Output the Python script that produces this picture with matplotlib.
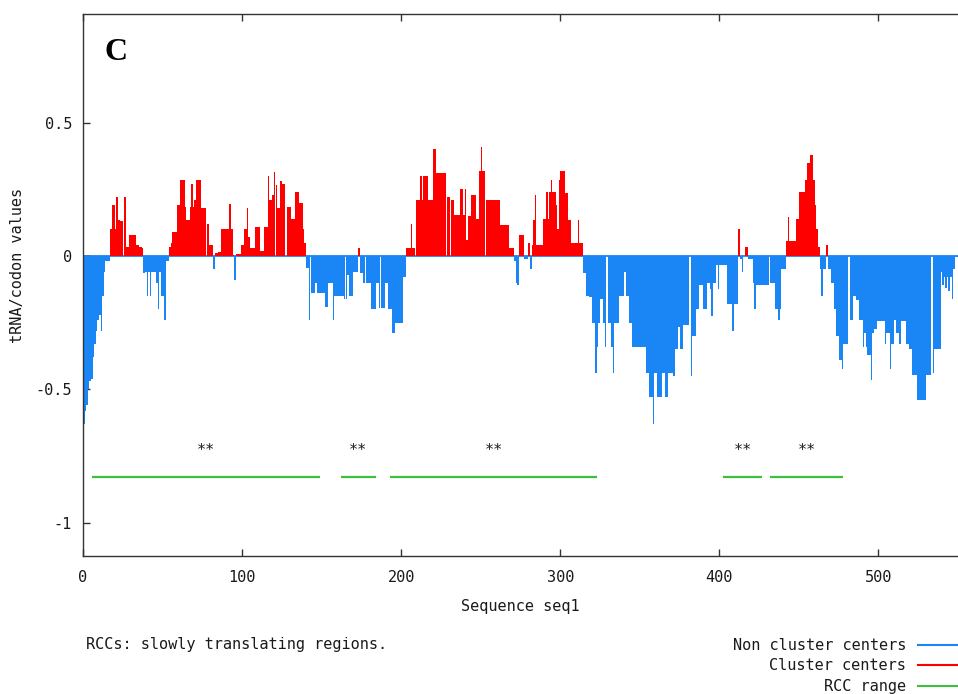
import numpy as np
import matplotlib
matplotlib.use("Agg")
import matplotlib.pyplot as plt
from matplotlib.lines import Line2D

# ---------------- data ----------------
values = [
    -0.63, -0.58, -0.56, -0.50, -0.47, -0.46, -0.38, -0.33, -0.28, -0.24,
    -0.22, -0.28, -0.15, -0.06, -0.02, -0.02, -0.02, 0.10, 0.19, 0.19,
    0.10, 0.22, 0.135, 0.13, 0.13, 0.0, 0.22, 0.035, 0.035, 0.08,
    0.08, 0.08, 0.08, 0.04, 0.04, 0.035, 0.035, 0.03, -0.065, -0.06,
    -0.15, -0.06, -0.15, -0.06, -0.06, -0.06, -0.10, -0.20, -0.06, -0.15,
    -0.15, -0.24, -0.02, -0.02, 0.035, 0.05, 0.09, 0.09, 0.09, 0.19,
    0.19, 0.285, 0.285, 0.285, 0.185, 0.135, 0.135, 0.185, 0.27, 0.185,
    0.21, 0.285, 0.285, 0.285, 0.18, 0.18, 0.18, 0.0, 0.12, 0.04,
    0.04, 0.04, -0.05, 0.01, 0.01, 0.015, 0.015, 0.10, 0.10, 0.10,
    0.10, 0.10, 0.195, 0.10, 0.005, -0.09, 0.008, 0.008, 0.008, 0.04,
    0.04, 0.10, 0.10, 0.18, 0.07, 0.03, 0.03, 0.03, 0.11, 0.11,
    0.11, 0.02, 0.02, 0.02, 0.11, 0.11, 0.30, 0.21, 0.21, 0.23,
    0.315, 0.265, 0.18, 0.18, 0.28, 0.27, 0.27, 0.0, 0.185, 0.185,
    0.185, 0.14, 0.14, 0.24, 0.24, 0.24, 0.20, 0.20, 0.10, 0.05,
    -0.045, -0.045, -0.24, -0.14, -0.14, -0.14, -0.10, -0.14, -0.14, -0.14,
    -0.14, -0.14, -0.19, -0.19, -0.10, -0.10, -0.10, -0.24, -0.15, -0.15,
    -0.15, -0.15, -0.15, -0.15, -0.16, -0.16, -0.07, -0.15, -0.15, -0.15,
    -0.06, -0.06, -0.06, 0.03, -0.065, -0.065, -0.10, 0.0, -0.10, -0.10,
    -0.10, -0.20, -0.20, -0.20, -0.10, -0.10, -0.195, -0.195, -0.195, -0.195,
    -0.10, -0.10, -0.20, -0.20, -0.29, -0.29, -0.25, -0.25, -0.25, -0.25,
    -0.25, -0.08, -0.08, 0.03, 0.03, 0.03, 0.12, 0.03, 0.03, 0.21,
    0.21, 0.21, 0.30, 0.21, 0.30, 0.30, 0.30, 0.21, 0.21, 0.21,
    0.40, 0.40, 0.31, 0.31, 0.31, 0.31, 0.31, 0.31, 0.0, 0.22,
    0.22, 0.21, 0.21, 0.155, 0.155, 0.155, 0.155, 0.25, 0.25, 0.155,
    0.25, 0.06, 0.15, 0.15, 0.23, 0.23, 0.23, 0.14, 0.14, 0.32,
    0.41, 0.32, 0.32, 0.21, 0.21, 0.21, 0.21, 0.21, 0.21, 0.21,
    0.21, 0.21, 0.115, 0.115, 0.115, 0.115, 0.115, 0.115, 0.03, 0.03,
    0.03, -0.02, -0.10, -0.11, 0.08, 0.08, 0.08, -0.01, -0.01, -0.01,
    0.05, -0.05, 0.04, 0.135, 0.23, 0.04, 0.04, 0.04, 0.04, 0.14,
    0.14, 0.24, 0.14, 0.24, 0.285, 0.24, 0.24, 0.19, 0.10, 0.285,
    0.32, 0.32, 0.32, 0.235, 0.235, 0.135, 0.135, 0.05, 0.05, 0.05,
    0.05, 0.135, 0.05, 0.05, -0.065, -0.065, -0.15, -0.15, -0.155, -0.155,
    -0.25, -0.25, -0.44, -0.34, -0.25, -0.16, -0.16, -0.25, -0.34, 0.0,
    -0.25, -0.25, -0.34, -0.44, -0.25, -0.25, -0.25, -0.15, -0.15, -0.15,
    -0.06, -0.15, -0.15, -0.25, -0.25, -0.34, -0.34, -0.34, -0.34, -0.34,
    -0.34, -0.34, -0.34, -0.34, -0.44, -0.44, -0.53, -0.53, -0.63, -0.44,
    -0.44, -0.53, -0.53, -0.53, -0.44, -0.44, -0.53, -0.53, -0.44, -0.44,
    -0.44, -0.45, -0.35, -0.35, -0.265, -0.35, -0.35, -0.26, -0.26, -0.26,
    -0.26, 0.0, -0.45, -0.30, -0.30, -0.20, -0.20, -0.11, -0.11, -0.11,
    -0.20, -0.20, -0.10, -0.10, -0.125, -0.225, -0.10, -0.10, -0.035, -0.125,
    -0.035, -0.035, -0.035, -0.035, -0.035, -0.18, -0.18, -0.18, -0.28, -0.18,
    -0.18, -0.18, 0.10, -0.01, -0.06, 0.0, 0.035, 0.035, -0.01, -0.01,
    -0.01, -0.10, -0.20, -0.11, -0.11, -0.11, -0.11, -0.11, -0.11, -0.11,
    -0.11, 0.0, -0.10, -0.10, -0.10, -0.20, -0.20, -0.24, -0.20, -0.05,
    -0.05, -0.05, 0.055, 0.145, 0.055, 0.055, 0.055, 0.055, 0.14, 0.14,
    0.24, 0.24, 0.24, 0.24, 0.285, 0.35, 0.35, 0.38, 0.38, 0.285,
    0.19, 0.10, 0.035, -0.05, -0.15, -0.05, -0.05, 0.04, -0.05, -0.05,
    -0.10, -0.10, -0.20, -0.30, -0.30, -0.39, -0.39, -0.425, -0.33, -0.33,
    -0.33, 0.0, -0.24, -0.24, -0.15, -0.15, -0.165, -0.165, -0.24, -0.24,
    -0.34, -0.29, -0.34, -0.37, -0.37, -0.465, -0.29, -0.275, -0.275, -0.245,
    -0.245, -0.245, -0.245, -0.245, -0.33, -0.29, -0.29, -0.425, -0.33, -0.33,
    -0.24, -0.29, -0.29, -0.33, -0.245, -0.245, -0.245, -0.33, -0.33, -0.35,
    -0.35, -0.445, -0.445, -0.445, -0.54, -0.54, -0.54, -0.54, -0.54, -0.54,
    -0.445, -0.445, -0.445, 0.0, -0.44, -0.35, -0.35, -0.35, -0.35, -0.06,
    -0.11, -0.08, -0.12, -0.08, -0.13, -0.08, -0.16, -0.05, -0.005, -0.005,
]

rcc_starts = [5.7, 162, 193, 402, 432]
rcc_ends = [149, 184, 323, 427, 478]
rcc_level = -0.83
star_level = -0.73
star_text = "**"

x_ticks = [0, 100, 200, 300, 400, 500]
x_tick_labels = ["0", "100", "200", "300", "400", "500"]
y_ticks = [-1, -0.5, 0, 0.5]
y_tick_labels = ["-1", "-0.5", "0", "0.5"]

legend_labels = ["Non cluster centers", "Cluster centers", "RCC range"]
x_label = "Sequence seq1"
y_label = "tRNA/codon values"
note = "RCCs: slowly translating regions."
panel = "C"

# ---------------- style ----------------
BLUE = "#1a85f5"
RED = "#ff0000"
GREEN = "#3fbf3f"
TXT = "#1a1a1a"
MONO = "DejaVu Sans Mono"
FS = 11

plt.rcParams["font.family"] = MONO
plt.rcParams["font.size"] = FS

W, H = 958, 694
fig = plt.figure(figsize=(W / 100, H / 100), dpi=100)
ax = fig.add_axes([83 / W, (H - 556) / H, 875 / W, 542 / H])

pos = np.arange(len(values))
colors = [RED if v > 0 else BLUE for v in values]
ax.axhline(0, color=BLUE, lw=1.3, zorder=1)
ax.bar(pos, values, width=1.0, align="edge", color=colors, linewidth=0, zorder=2)

for s, e in zip(rcc_starts, rcc_ends):
    ax.plot([s, e], [rcc_level, rcc_level], color=GREEN, lw=1.6, zorder=3,
            solid_capstyle="butt")
    ax.text((s + e) / 2, star_level, star_text, ha="center", va="center",
            fontsize=FS, color=TXT, family=MONO)

ax.set_xlim(0, 550)
ax.set_ylim(-1.125, 0.907)
ax.set_xticks(x_ticks)
ax.set_xticklabels(x_tick_labels)
ax.set_yticks(y_ticks)
ax.set_yticklabels(y_tick_labels)
ax.tick_params(axis="x", direction="in", top=True, length=5, width=1,
               pad=10, labelsize=FS, labelcolor=TXT, color="#333333")
ax.tick_params(axis="y", direction="in", right=False, length=5, width=1,
               pad=8, labelsize=FS, labelcolor=TXT, color="#333333")
for side in ["left", "bottom", "top"]:
    ax.spines[side].set_color("#333333")
    ax.spines[side].set_linewidth(1.0)
ax.spines["right"].set_visible(False)

fig.text(520 / W, 1 - 607 / H, x_label, ha="center", va="center",
         fontsize=FS, color=TXT)
fig.text(18 / W, 1 - 265 / H, y_label, ha="center", va="center",
         rotation=90, fontsize=FS, color=TXT)
fig.text(116 / W, 1 - 53 / H, panel, ha="center", va="center",
         fontsize=23, fontweight="bold", family="Liberation Serif", color="black")
fig.text(86 / W, 1 - 645 / H, note, ha="left", va="center", fontsize=FS, color=TXT)

legend_colors = [BLUE, RED, GREEN]
legend_rows = [645, 665, 686]
for lab, col, yy in zip(legend_labels, legend_colors, legend_rows):
    fig.text(906 / W, 1 - yy / H, lab, ha="right", va="center", fontsize=FS, color=TXT)
    fig.add_artist(Line2D([918 / W, 1.0], [1 - yy / H, 1 - yy / H],
                          color=col, lw=1.5, transform=fig.transFigure))

fig.savefig("out.png", dpi=100, facecolor="white")
